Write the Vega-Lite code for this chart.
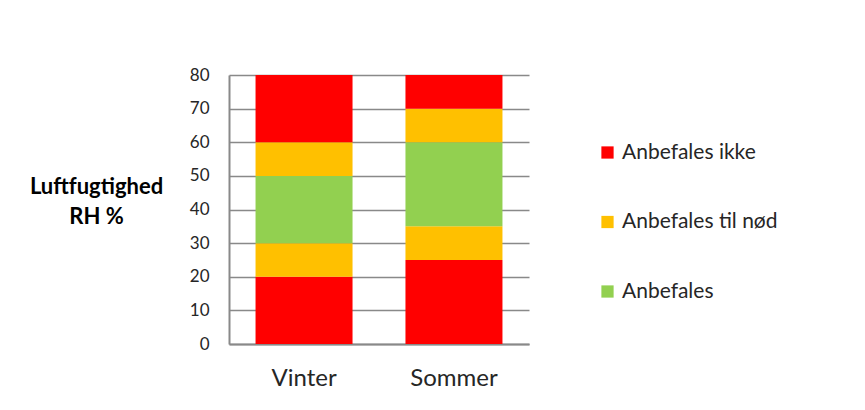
{
  "$schema": "https://vega.github.io/schema/vega-lite/v6.json",
  "autosize": "none",
  "padding": {"left": 229, "top": 75, "right": 336, "bottom": 66},
  "width": 300,
  "height": 269,
  "background": "white",
  "config": {
    "view": {"stroke": null},
    "font": "Lato"
  },
  "data": {
    "values": [
      {"season": "Vinter", "kategori": "Anbefales ikke", "fra": 0, "til": 20},
      {"season": "Vinter", "kategori": "Anbefales til nød", "fra": 20, "til": 30},
      {"season": "Vinter", "kategori": "Anbefales", "fra": 30, "til": 50},
      {"season": "Vinter", "kategori": "Anbefales til nød", "fra": 50, "til": 60},
      {"season": "Vinter", "kategori": "Anbefales ikke", "fra": 60, "til": 80},
      {"season": "Sommer", "kategori": "Anbefales ikke", "fra": 0, "til": 25},
      {"season": "Sommer", "kategori": "Anbefales til nød", "fra": 25, "til": 35},
      {"season": "Sommer", "kategori": "Anbefales", "fra": 35, "til": 60},
      {"season": "Sommer", "kategori": "Anbefales til nød", "fra": 60, "til": 70},
      {"season": "Sommer", "kategori": "Anbefales ikke", "fra": 70, "til": 80}
    ]
  },
  "mark": {"type": "bar"},
  "encoding": {
    "x": {
      "field": "season",
      "type": "nominal",
      "sort": ["Vinter", "Sommer"],
      "scale": {"paddingInner": 0.353, "paddingOuter": 0.177},
      "axis": {
        "title": null,
        "labelAngle": 0,
        "labelFontSize": 24,
        "labelColor": "#262626",
        "labelPadding": 22,
        "ticks": false,
        "domainColor": "#898989",
        "domainWidth": 2
      }
    },
    "y": {
      "field": "fra",
      "type": "quantitative",
      "scale": {"domain": [0, 80], "nice": false},
      "axis": {
        "values": [0, 10, 20, 30, 40, 50, 60, 70, 80],
        "title": ["Luftfugtighed", "RH %"],
        "titleAngle": 0,
        "titleFontSize": 22,
        "titleFontWeight": "bold",
        "titleColor": "#000000",
        "titleAlign": "center",
        "titleBaseline": "top",
        "titleX": -133,
        "titleY": 101,
        "titleLineHeight": 30,
        "labelFontSize": 17,
        "labelColor": "#262626",
        "labelPadding": 20,
        "ticks": false,
        "grid": true,
        "gridColor": "#898989",
        "gridWidth": 1.5,
        "domainColor": "#898989",
        "domainWidth": 2
      }
    },
    "y2": {"field": "til"},
    "color": {
      "field": "kategori",
      "type": "nominal",
      "scale": {
        "domain": ["Anbefales ikke", "Anbefales til nød", "Anbefales"],
        "range": ["#FF0000", "#FFC000", "#92D050"]
      },
      "legend": {
        "title": null,
        "orient": "none",
        "legendX": 368,
        "legendY": 67,
        "symbolType": "square",
        "symbolSize": 150,
        "symbolStrokeWidth": 0,
        "labelFontSize": 21,
        "labelColor": "#262626",
        "labelOffset": 4,
        "rowPadding": 47.5
      }
    }
  }
}
